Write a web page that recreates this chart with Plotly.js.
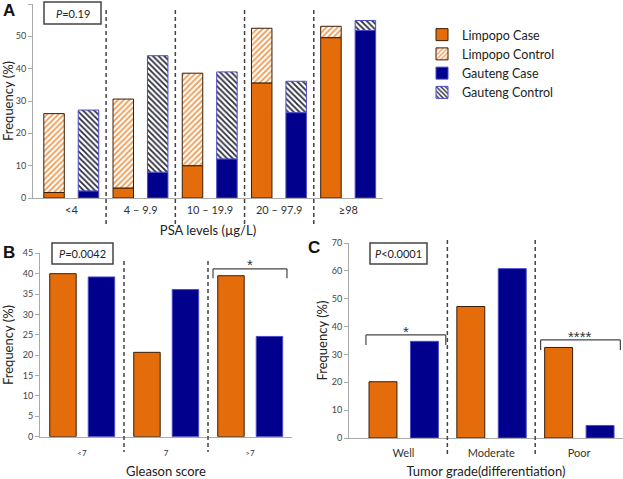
<!DOCTYPE html>
<html>
<head>
<meta charset="utf-8">
<script src="https://cdn.plot.ly/plotly-3.0.1.min.js"></script>
<style>body{margin:0;background:#fff}#fig{width:623px;height:479px}</style>
</head>
<body>
<div id="fig"></div>
<script>
// Panel A: PSA levels, stacked case + control
var psaLevels = ['<4', '4 – 9.9', '10 – 19.9', '20 – 97.9', '≥98'];
var limpopoCase = [1.7, 3.1, 10.0, 35.6, 49.6];
var limpopoControl = [24.4, 27.5, 28.6, 16.9, 3.5];
var gautengCase = [2.2, 8.0, 12.1, 26.4, 51.8];
var gautengControl = [25.0, 36.0, 26.9, 9.7, 3.1];

// Panel B: Gleason score
var gleason = ['<7', '7', '>7'];
var limpopoGleason = [40.0, 20.7, 39.5];
var gautengGleason = [39.2, 36.1, 24.6];

// Panel C: tumor grade
var grade = ['Well', 'Moderate', 'Poor'];
var limpopoGrade = [20.2, 47.2, 32.5];
var gautengGrade = [34.7, 60.8, 4.5];

var W = 623, H = 479;
function px(x) { return x / W; }
function py(y) { return 1 - y / H; }

var orange = '#E46C0A', navy = '#00008C';
var orangeLine = {color: '#3b1d05', width: 1};
var navyLine = {color: '#4b4bc8', width: 1};
var font = 'Lato, "Open Sans", sans-serif';

var data = [
  {type: 'bar', name: 'Limpopo Case', x: psaLevels, y: limpopoCase, xaxis: 'x', yaxis: 'y',
   width: 0.296, offset: -0.40, marker: {color: orange, line: orangeLine}},
  {type: 'bar', name: 'Limpopo Control', x: psaLevels, y: limpopoControl, base: limpopoCase, xaxis: 'x', yaxis: 'y',
   width: 0.296, offset: -0.40,
   marker: {color: 'white', line: orangeLine,
            pattern: {shape: '/', fgcolor: '#F0994E', bgcolor: 'white', size: 4, solidity: 0.45}}},
  {type: 'bar', name: 'Gauteng Case', x: psaLevels, y: gautengCase, xaxis: 'x', yaxis: 'y',
   width: 0.296, offset: 0.0975, marker: {color: navy, line: navyLine}},
  {type: 'bar', name: 'Gauteng Control', x: psaLevels, y: gautengControl, base: gautengCase, xaxis: 'x', yaxis: 'y',
   width: 0.296, offset: 0.0975,
   marker: {color: 'white', line: navyLine,
            pattern: {shape: '\\', fgcolor: '#2a2a3a', bgcolor: 'white', size: 4, solidity: 0.45}}},

  {type: 'bar', x: gleason, y: limpopoGleason, xaxis: 'x2', yaxis: 'y2', showlegend: false,
   width: 0.315, offset: -0.384, marker: {color: orange, line: orangeLine}},
  {type: 'bar', x: gleason, y: gautengGleason, xaxis: 'x2', yaxis: 'y2', showlegend: false,
   width: 0.315, offset: 0.074, marker: {color: navy, line: navyLine}},

  {type: 'bar', x: grade, y: limpopoGrade, xaxis: 'x3', yaxis: 'y3', showlegend: false,
   width: 0.318, offset: -0.392, marker: {color: orange, line: orangeLine}},
  {type: 'bar', x: grade, y: gautengGrade, xaxis: 'x3', yaxis: 'y3', showlegend: false,
   width: 0.318, offset: 0.08, marker: {color: navy, line: navyLine}}
];

var tickFont = {family: font, size: 9, color: '#444'};
var titleFont = {family: font, size: 13, color: '#222'};
function yax(domain, range, dtick, anchor, standoff) {
  return {domain: domain, range: range, dtick: dtick, anchor: anchor, showgrid: false, zeroline: false,
          showline: true, linecolor: '#aaa', ticks: 'outside', ticklen: 4, tickcolor: '#aaa',
          tickfont: tickFont, fixedrange: true,
          title: {text: 'Frequency (%)', font: titleFont, standoff: standoff}};
}
function xax(domain, range, anchor, title, tsize, lblOff, standoff) {
  return {domain: domain, range: range, anchor: anchor, type: 'category', showgrid: false,
          showline: true, linecolor: '#aaa', ticks: '', ticklabelstandoff: lblOff,
          tickfont: {family: font, size: tsize, color: '#333'},
          title: {text: title, font: titleFont, standoff: standoff}};
}

var layout = {
  width: W, height: H,
  margin: {l: 0, r: 0, t: 0, b: 0},
  paper_bgcolor: 'white', plot_bgcolor: 'white',
  barmode: 'overlay',
  font: {family: font},
  xaxis: xax([px(33), px(383)], [-0.556, 4.5], 'y', 'PSA levels (µg/L)', 11, 2, 10),
  yaxis: yax([py(198), py(4)], [0, 60], 10, 'x', 6),
  xaxis2: xax([px(40), px(292)], [-0.5, 2.5], 'y2', 'Gleason score', 8, 9, 10),
  yaxis2: yax([py(436.7), py(253.3)], [0, 45], 5, 'x2', 6),
  xaxis3: xax([px(349), px(623)], [-0.62, 2.5], 'y3', 'Tumor grade(differentiation)', 11, 5, 9),
  yaxis3: yax([py(438), py(243)], [0, 70], 10, 'x3', 1),
  legend: {x: px(422), y: py(20), xanchor: 'left', yanchor: 'top', bgcolor: 'rgba(0,0,0,0)',
           font: {family: font, size: 12.5, color: '#222'}, tracegroupgap: 0},
  shapes: [],
  annotations: []
};

function divider(xref, xv, y0, y1) {
  layout.shapes.push({type: 'line', xref: xref, yref: 'paper', x0: xv, x1: xv, y0: py(y0), y1: py(y1),
                      line: {color: '#444', width: 1.5, dash: '4px,3px'}});
}
[0.5, 1.5, 2.5, 3.5].forEach(function (v) { divider('x', v, 10, 227); });
[0.5, 1.5].forEach(function (v) { divider('x2', v, 261, 452); });
[0.5, 1.5].forEach(function (v) { divider('x3', v, 240, 455); });

function bracket(xref, yref, xa, xb, ytop, ybot, label, ly) {
  var ln = {color: '#444', width: 1.2};
  layout.shapes.push({type: 'line', xref: xref, yref: yref, x0: xa, x1: xb, y0: ytop, y1: ytop, line: ln});
  layout.shapes.push({type: 'line', xref: xref, yref: yref, x0: xa, x1: xa, y0: ytop, y1: ybot, line: ln});
  layout.shapes.push({type: 'line', xref: xref, yref: yref, x0: xb, x1: xb, y0: ytop, y1: ybot, line: ln});
  layout.annotations.push({xref: xref, yref: yref, x: (xa + xb) / 2, y: ly, text: label, showarrow: false,
                           xanchor: 'center', yanchor: 'middle',
                           font: {family: 'Liberation Sans, Arial', size: 15, color: '#333'}});
}
bracket('x2', 'y2', 1.56, 2.44, 41.2, 38.9, '*', 42.2);
bracket('x3', 'y3', -0.427, 0.482, 37.0, 33.4, '*', 38.2);
bracket('x3', 'y3', 1.562, 2.47, 35.2, 31.6, '****', 36.3);

function pbox(x0, x1, y0, y1, txt) {
  layout.shapes.push({type: 'rect', xref: 'paper', yref: 'paper', x0: px(x0), x1: px(x1), y0: py(y1), y1: py(y0),
                      line: {color: '#444', width: 1.5}, fillcolor: 'white'});
  layout.annotations.push({xref: 'paper', yref: 'paper', x: px((x0 + x1) / 2), y: py((y0 + y1) / 2),
                           xanchor: 'center', yanchor: 'middle',
                           text: txt, showarrow: false, font: {family: font, size: 11, color: '#222'}});
}
pbox(44, 101, 2, 24, '<i>P</i>=0.19');
pbox(52, 113, 243, 264, '<i>P</i>=0.0042');
pbox(370, 427, 243, 264, '<i>P</i><0.0001');

function panelLabel(txt, x, y) {
  layout.annotations.push({xref: 'paper', yref: 'paper', x: px(x), y: py(y), text: '<b>' + txt + '</b>',
                           xanchor: 'center', yanchor: 'middle', showarrow: false,
                           font: {family: 'Liberation Sans, Arial', size: 17, color: '#111'}});
}
panelLabel('A', 9, 10);
panelLabel('B', 9, 252);
panelLabel('C', 314, 247);

Plotly.newPlot('fig', data, layout, {displayModeBar: false, staticPlot: true});
</script>
</body>
</html>
